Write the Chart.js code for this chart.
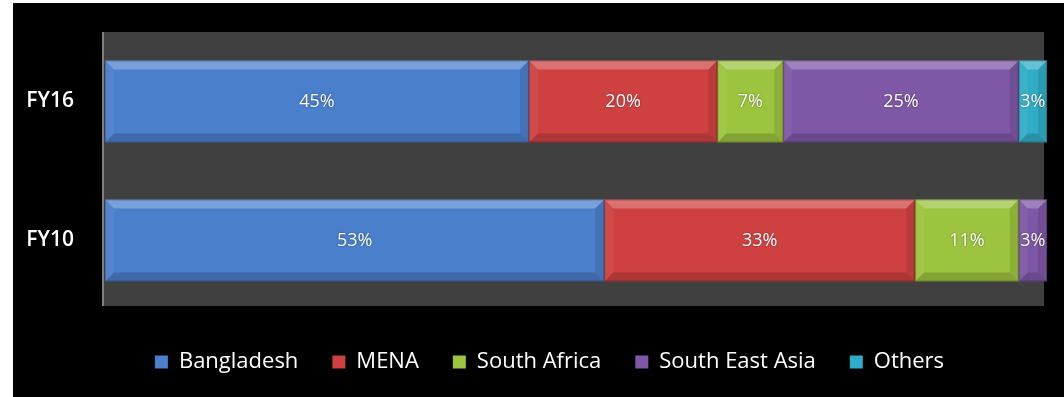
<!DOCTYPE html>
<html><head><meta charset="utf-8">
<script src="https://cdn.jsdelivr.net/npm/chart.js@4.4.0/dist/chart.umd.min.js"></script>
<style>
html,body{margin:0;padding:0;background:#fff;width:1064px;height:397px;overflow:hidden}
#wrap{position:absolute;left:13px;top:3px;width:1051px;height:394px;background:#000}
canvas{display:block}
</style></head><body><div id="wrap"><canvas id="c" width="1051" height="394"></canvas></div>
<script>
const categories = ['FY16', 'FY10'];
const seriesNames = ['Bangladesh', 'MENA', 'South Africa', 'South East Asia', 'Others'];
const bangladesh = [45, 53];
const mena = [20, 33];
const southAfrica = [7, 11];
const southEastAsia = [25, 3];
const others = [3, 0];
const seriesColors = ['#4a7fcc', '#cf4141', '#9cc43e', '#7e57a6', '#30adc6'];

const seriesValues = [bangladesh, mena, southAfrica, southEastAsia, others];
const FONT = '"Open Sans", Lato, sans-serif';

const plotBg = {
  id: 'plotBg',
  beforeDatasetsDraw(chart) {
    const a = chart.chartArea, ctx = chart.ctx;
    ctx.save();
    ctx.fillStyle = '#404040';
    ctx.fillRect(a.left - 2, a.top, a.right - a.left - 1, a.bottom - a.top - 4);
    ctx.strokeStyle = '#7f7f7f';
    ctx.lineWidth = 2;
    ctx.beginPath();
    ctx.moveTo(a.left - 2, a.top);
    ctx.lineTo(a.left - 2, a.bottom - 4);
    ctx.stroke();
    ctx.restore();
  }
};

const shiftLegend = {
  id: 'shiftLegend',
  afterLayout(chart) {
    const lg = chart.legend;
    if (lg) { lg.left += 12; lg.right += 12; }
  }
};

const bevel = {
  id: 'bevel',
  afterDatasetsDraw(chart) {
    const ctx = chart.ctx;
    ctx.save();
    chart.data.datasets.forEach((ds, i) => {
      const meta = chart.getDatasetMeta(i);
      meta.data.forEach((el, j) => {
        const v = ds.data[j];
        if (!v) return;
        const p = el.getProps(['x', 'y', 'base', 'height'], true);
        const l = Math.min(p.x, p.base), r = Math.max(p.x, p.base);
        const t = p.y - p.height / 2, b = p.y + p.height / 2;
        const bv = 9;
        const poly = (pts, fill) => {
          ctx.beginPath();
          ctx.moveTo(pts[0][0], pts[0][1]);
          for (let k = 1; k < pts.length; k++) ctx.lineTo(pts[k][0], pts[k][1]);
          ctx.closePath();
          ctx.fillStyle = fill;
          ctx.fill();
        };
        poly([[l, t], [r, t], [r - bv, t + bv], [l + bv, t + bv]], 'rgba(255,255,255,0.26)');
        poly([[l, b], [r, b], [r - bv, b - bv], [l + bv, b - bv]], 'rgba(0,0,0,0.16)');
        poly([[l, t], [l + bv, t + bv], [l + bv, b - bv], [l, b]], 'rgba(255,255,255,0.05)');
        poly([[r, t], [r - bv, t + bv], [r - bv, b - bv], [r, b]], 'rgba(0,0,0,0.10)');
        ctx.strokeStyle = 'rgba(0,0,0,0.22)';
        ctx.lineWidth = 1;
        ctx.strokeRect(l + 0.5, t + 0.5, r - l - 1, b - t - 1);
        ctx.fillStyle = '#ffffff';
        ctx.font = '18px ' + FONT;
        ctx.textAlign = 'center';
        ctx.textBaseline = 'middle';
        ctx.shadowColor = 'rgba(0,0,0,0.5)';
        ctx.shadowBlur = 2;
        ctx.fillText(v + '%', (l + r) / 2, p.y);
        ctx.shadowBlur = 0;
        ctx.shadowColor = 'transparent';
      });
    });
    ctx.restore();
  }
};

const datasets = seriesNames.map((name, i) => ({
  label: name,
  data: seriesValues[i],
  backgroundColor: seriesColors[i],
  borderWidth: 0,
  barPercentage: 0.59,
  categoryPercentage: 1.0
}));

new Chart(document.getElementById('c'), {
  type: 'bar',
  data: { labels: categories, datasets },
  plugins: [plotBg, bevel, shiftLegend],
  options: {
    indexAxis: 'y',
    responsive: false,
    animation: false,
    layout: { padding: { top: 29, right: 17, left: 15, bottom: 14 } },
    scales: {
      x: {
        stacked: true, min: 0, max: 100,
        grid: { display: false }, border: { display: false },
        ticks: { display: false },
        afterFit(s) { s.height = 7; s.paddingLeft = 0; s.paddingRight = 0; }
      },
      y: {
        stacked: true,
        grid: { display: false },
        border: { display: false },
        ticks: { color: '#ffffff', padding: 23, font: { family: FONT, size: 21, weight: '600' } },
        afterFit(s) { s.width = 77; s.paddingTop = 0; s.paddingBottom = 0; }
      }
    },
    plugins: {
      legend: {
        position: 'bottom',
        labels: {
          color: '#ffffff',
          boxWidth: 13, boxHeight: 13,
          padding: 34,
          font: { family: FONT, size: 22 }
        }
      },
      tooltip: { enabled: false }
    }
  }
});
</script>
</body></html>
